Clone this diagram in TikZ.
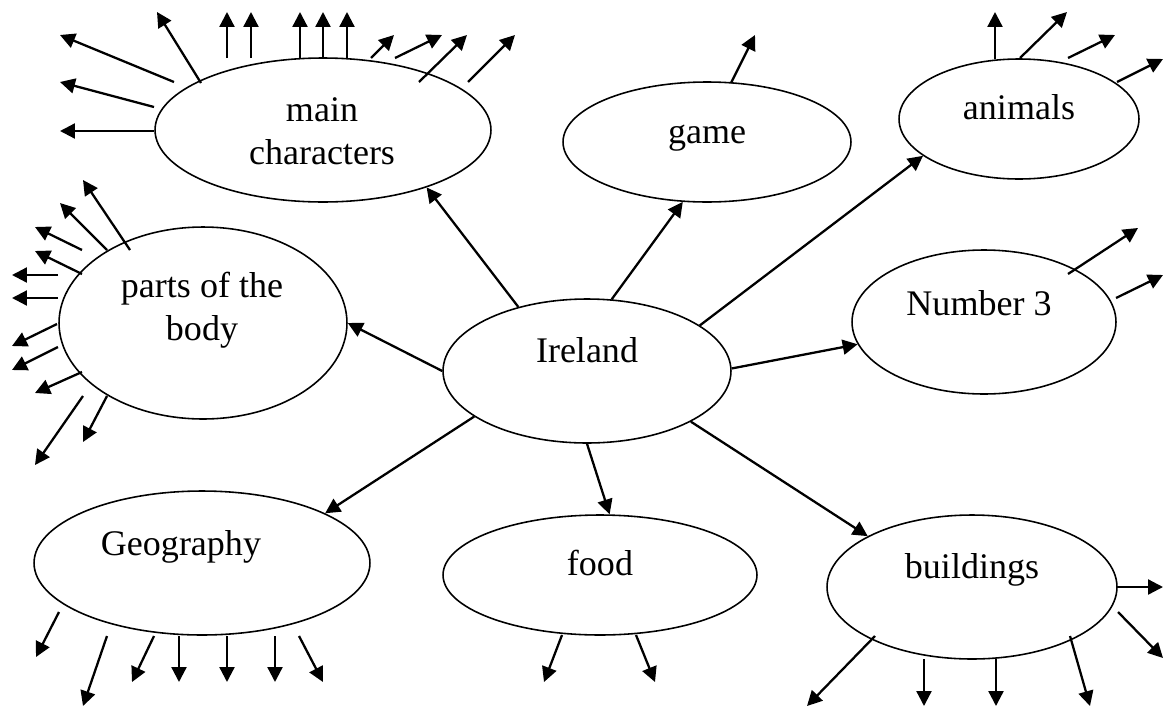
\documentclass[tikz,border=0pt]{standalone}
\usepackage{fontspec}
\setmainfont{Liberation Serif}
\usepackage{tikz}
\usetikzlibrary{shapes.geometric,arrows.meta,calc}
\tikzstyle{bubble} = [ellipse,draw,line width=0.9pt,inner sep=0pt]
\tikzstyle{word} = [inner sep=0pt,align=center,font=\fontsize{20.5}{24.4}\selectfont]
\tikzstyle{arr} = [-{Triangle[length=8.5pt,width=8.5pt]},line width=1.3pt]

\begin{document}
\begin{tikzpicture}[x=0.02cm,y=-0.02cm]
    	\useasboundingbox (0,0) rectangle (1163,707);
    	
    	\node[bubble,minimum width=5.76cm,minimum height=2.88cm] (ireland) at (587,371) {};
    	\node[word,anchor=base] (irelandtext) at (587,362) {Ireland};
    	
    	\node[bubble,minimum width=6.72cm,minimum height=2.88cm] (characters) at (323,130) {};
    	\node[word] (characterstext) at (322,131) {main\\characters};
    	\draw[arr] (ireland.137) -- (characters.-29);
    	
    	\node[bubble,minimum width=5.76cm,minimum height=2.4cm] (game) at (707,142) {};
    	\node[word,anchor=base] (gametext) at (707,143) {game};
    	\draw[arr] (ireland.71) -- (game.248);
    	
    	\node[bubble,minimum width=4.8cm,minimum height=2.4cm] (animals) at (1019,119) {};
    	\node[word,anchor=base] (animalstext) at (1019,119) {animals};
    	\draw[arr] (ireland.22) -- (animals.201);
    	
    	\node[bubble,minimum width=5.28cm,minimum height=2.88cm] (number) at (984,322) {};
    	\node[word,anchor=base] (numbertext) at (979,315) {Number 3};
    	\draw[arr] (ireland.1) -- (number.190);
    	
    	\node[bubble,minimum width=5.76cm,minimum height=3.84cm] (body) at (203,323) {};
    	\node[word] (bodytext) at (202,310) {parts of the\\body};
    	\draw[arr] (ireland.180) -- (body.0);
    	
    	\node[bubble,minimum width=6.72cm,minimum height=2.88cm] (geography) at (202,563) {};
    	\node[word,anchor=base] (geographytext) at (181,555) {Geography};
    	\draw[arr] (ireland.202) -- (geography.22);
    	
    	\node[bubble,minimum width=6.28cm,minimum height=2.4cm] (food) at (600,575) {};
    	\node[word,anchor=base] (foodtext) at (600,575) {food};
    	\draw[arr] (ireland.270) -- (food.81);
    	
    	\node[bubble,minimum width=5.8cm,minimum height=2.88cm] (buildings) at (972,587) {};
    	\node[word,anchor=base] (buildingstext) at (972,578) {buildings};
    	\draw[arr] (ireland.-26) -- (buildings.154);
    	
    	\foreach \sx/\sy/\dx/\dy in {-149/-48/-114/-47, -122/-47/-44/-71, -96/-72/0/-46, -72/-72/0/-46,
    	    -23/-72/0/-46, 0/-72/0/-46, 24/-72/0/-46, 48/-72/23/-23, 72/-72/47/-23, 96/-48/48/-47,
    	    145/-48/47/-47, -169/-23/-94/-25, -169/1/-94/0}
    	    \draw[arr] ($(characters)+(\sx,\sy)$) -- ++(\dx,\dy);
    	
    	\draw[arr] ($(game)+(24,-59)$) -- ++(24,-48);
    	
    	\foreach \sx/\sy/\dx/\dy in {-24/-60/0/-47, 1/-61/47/-46, 49/-61/47/-23, 98/-37/46/-23}
    	    \draw[arr] ($(animals)+(\sx,\sy)$) -- ++(\dx,\dy);
    	
    	\foreach \sx/\sy/\dx/\dy in {84/-48/70/-46, 132/-24/47/-23}
    	    \draw[arr] ($(number)+(\sx,\sy)$) -- ++(\dx,\dy);
    	
    	\foreach \sx/\sy/\dx/\dy in {-73/-73/-47/-70, -96/-73/-47/-47, -121/-73/-47/-23, -121/-49/-47/-23,
    	    -145/-48/-46/0, -145/-25/-46/0, -146/1/-45/22, -145/24/-46/23, -121/49/-47/21,
    	    -120/73/-48/69, -96/73/-24/46}
    	    \draw[arr] ($(body)+(\sx,\sy)$) -- ++(\dx,\dy);
    	
    	\foreach \sx/\sy/\dx/\dy in {-143/49/-23/45, -95/73/-24/70, -48/73/-22/46, -23/73/0/46,
    	    25/73/0/46, 73/73/0/46, 97/73/24/46}
    	    \draw[arr] ($(geography)+(\sx,\sy)$) -- ++(\dx,\dy);
    	
    	\foreach \sx/\sy/\dx/\dy in {-38/60/-18/47, 36/60/19/47}
    	    \draw[arr] ($(food)+(\sx,\sy)$) -- ++(\dx,\dy);
    	
    	\foreach \sx/\sy/\dx/\dy in {145/0/46/0, 146/25/45/46, -97/49/-68/70, -48/72/0/47,
    	    24/72/0/47, 98/49/20/70}
    	    \draw[arr] ($(buildings)+(\sx,\sy)$) -- ++(\dx,\dy);
    	
\end{tikzpicture}
\end{document}
